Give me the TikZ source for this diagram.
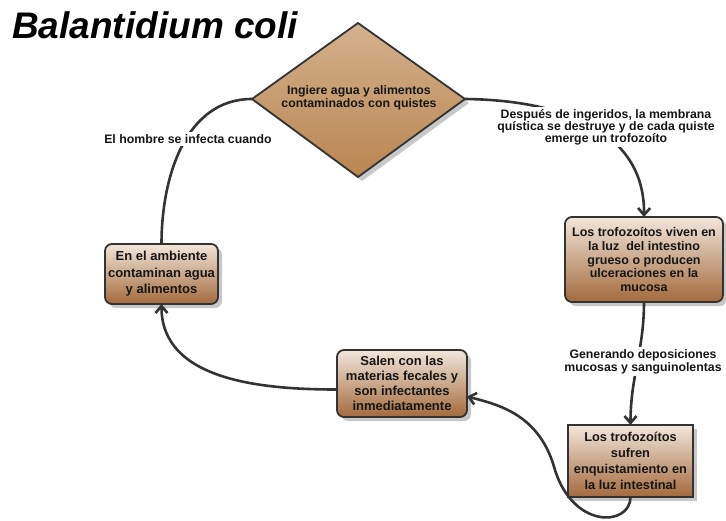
\documentclass[tikz,border=0pt]{standalone}
\usepackage{fontspec}
\setmainfont{Liberation Sans}
\usetikzlibrary{arrows.meta,shadows}
\definecolor{ink}{HTML}{161616}
\definecolor{edgec}{HTML}{333333}
\definecolor{boxtop}{HTML}{F2E6DA}
\definecolor{boxmid}{HTML}{CFA883}
\definecolor{boxbot}{HTML}{A36A3D}
\definecolor{diatop}{HTML}{D4B18E}
\definecolor{diabot}{HTML}{B88650}
\begin{document}
\begin{tikzpicture}[x=1pt,y=-1pt,
  shadowed/.style={drop shadow={shadow xshift=4pt,shadow yshift=-4pt,fill=black!30,opacity=.7}},
  box/.style={draw=edgec,line width=1.8pt,rounded corners=7pt,
    top color=boxtop,middle color=boxmid,bottom color=boxbot,shadowed,
    align=center,text=ink,inner sep=0pt,outer sep=0pt},
  sqbox/.style={box,rounded corners=0pt},
  lbl/.style={fill=white,align=center,text=ink,inner sep=2pt,
    font=\fontsize{12.3}{12.2}\selectfont\bfseries},
  conn/.style={draw=edgec,line width=2.6pt},
  arr/.style={conn,-{Straight Barb[length=7pt,width=12pt]}}
]
\fill[white] (0,0) rectangle (726,520);
\useasboundingbox (0,0) rectangle (726,520);

\node[anchor=base west,text=black,inner sep=0pt,
  font=\fontsize{37}{37}\selectfont\bfseries\itshape] (title) at (12,38) {Balantidium coli};

% diamond
\coordinate (dT) at (358,23);
\coordinate (dR) at (465,99);
\coordinate (dB) at (358,177);
\coordinate (dL) at (252,99);
\path[draw=edgec,line width=1.8pt,top color=diatop,bottom color=diabot,shadowed]
  (dT) -- (dR) -- (dB) -- (dL) -- cycle;
\node[align=center,text=ink,inner sep=0pt,
  font=\fontsize{12.3}{13}\selectfont\bfseries] (dia) at (359,98)
  {Ingiere agua y alimentos\\contaminados con quistes};

% boxes
\node[box,minimum width=158pt,minimum height=85pt,
  font=\fontsize{12.5}{13.8}\selectfont\bfseries] (b1) at (644,259.5)
  {Los trofozoítos viven en\\la luz\ \ del intestino\\grueso o producen\\ulceraciones en la\\mucosa};
\node[sqbox,minimum width=125pt,minimum height=72pt,
  font=\fontsize{12.8}{16}\selectfont\bfseries] (b4) at (630.5,461)
  {Los trofozoítos\\sufren\\enquistamiento en\\la luz intestinal};
\node[box,minimum width=130pt,minimum height=67pt,
  font=\fontsize{13}{14.8}\selectfont\bfseries] (b3) at (402,383.5)
  {Salen con las\\materias fecales y\\son infectantes\\inmediatamente};
\node[box,minimum width=113pt,minimum height=60pt,
  font=\fontsize{13}{16.5}\selectfont\bfseries] (b2) at (161.5,274)
  {En el ambiente\\contaminan agua\\y alimentos};

% connectors
\draw[arr] (dR) .. controls (560,100) and (645,130) .. (b1.north);
\draw[arr] (b1.south) to[out=-90,in=90] (b4.north);
\coordinate (loop) at (555,470);
\draw[arr] (b4.south) .. controls (630.5,526) and (574,530) .. (loop)
  .. controls (540,415) and (500,405) .. ([yshift=-13pt]b3.east);
\draw[arr] ([yshift=-6pt]b3.west) to[out=180,in=-90] (b2.south);
\draw[conn] (b2.north) to[out=90,in=180] (dL);

% labels
\node[lbl] (l1) at (606,127)
  {Después de ingeridos, la membrana\\quística se destruye y de cada quiste\\emerge un trofozoíto};
\node[lbl,font=\fontsize{12.3}{13}\selectfont\bfseries] (l2) at (643,361.5)
  {Generando deposiciones\\mucosas y sanguinolentas};
\node[lbl] (l3) at (188,139) {El hombre se infecta cuando};
\end{tikzpicture}
\end{document}
